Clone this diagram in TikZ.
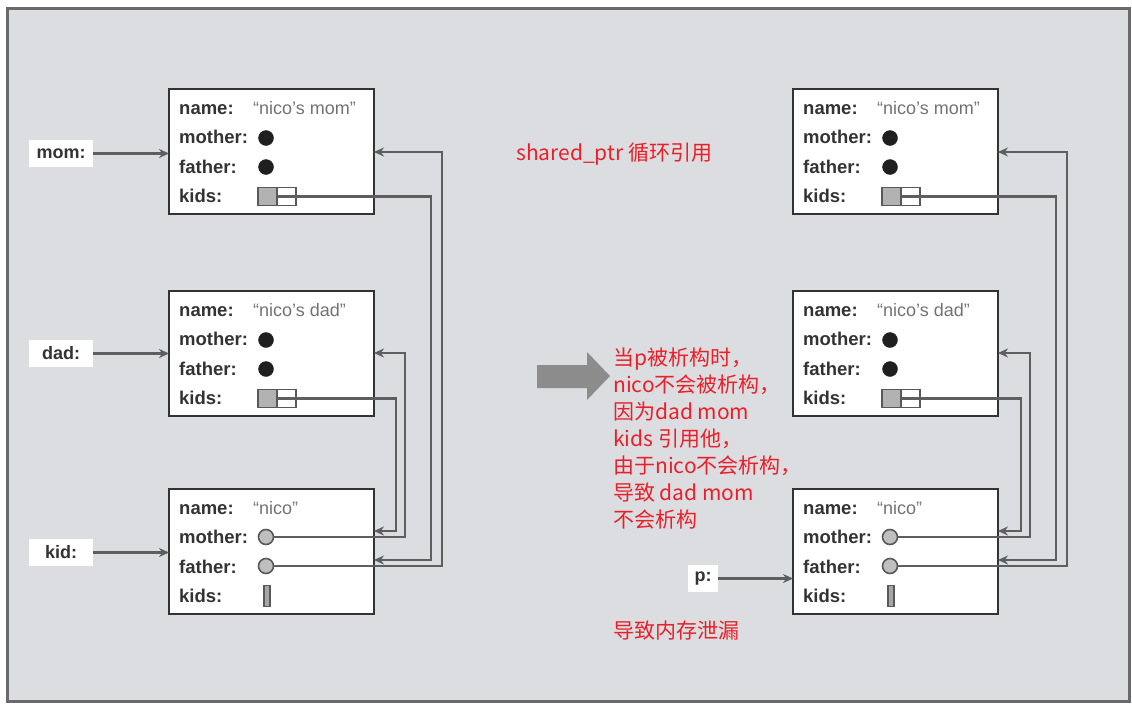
\documentclass[tikz,border=0pt]{standalone}
\usepackage{fontspec}
\setmainfont{Liberation Sans}
\newfontfamily\cjk{Noto Sans CJK SC}
\usetikzlibrary{arrows.meta}
\definecolor{bg}{HTML}{DCDDE0}
\definecolor{frame}{HTML}{6A6A6A}
\definecolor{ink}{HTML}{333333}
\definecolor{wirec}{HTML}{5E5E5E}
\definecolor{note}{HTML}{E8202A}
\tikzset{
  box/.style={draw=ink, line width=2.4pt, fill=white, rectangle, anchor=north west,
    minimum width=205, minimum height=125, inner sep=0, outer sep=0},
  fld/.style={anchor=base west, inner sep=0, text=ink, font=\fontsize{18.5}{20}\selectfont\bfseries},
  val/.style={anchor=base west, inner sep=0, text=black!55, font=\fontsize{18}{20}\selectfont},
  bdot/.style={circle, fill=black!88, draw=black!88, minimum size=15, inner sep=0},
  gdot/.style={circle, fill=black!25, draw=black!65, line width=1.6pt, minimum size=15, inner sep=0},
  arr/.style={rectangle, draw=black!65, line width=1.6pt, minimum width=38, minimum height=18, inner sep=0,
    path picture={\fill[black!30] (path picture bounding box.south west) rectangle (path picture bounding box.north);
      \draw[black!65, line width=1.6pt] (path picture bounding box.south) -- (path picture bounding box.north);}},
  one/.style={rectangle, draw=black!65, fill=black!35, line width=1.6pt, minimum width=6, minimum height=21, inner sep=0},
  ref/.style={rectangle, fill=white, inner sep=0, minimum height=27, text=ink, font=\fontsize{18}{20}\selectfont\bfseries},
  wire/.style={draw=wirec, line width=2.2pt},
  tip/.style={-{Stealth[length=10pt,width=9pt]}},
  red/.style={anchor=base west, inner sep=0, text=note, font=\cjk\fontsize{21}{27}\selectfont},
}
\newcommand\personbox[5]{%
\begin{scope}[shift={(#2,#3)}]
  \node[box] (#1) at (0,0) {};
  \node[fld] (#1-ln) at (10,25) {name:};
  \node[fld] (#1-lm) at (10,54) {mother:};
  \node[fld] (#1-lf) at (10,84) {father:};
  \node[fld] (#1-lk) at (10,113) {kids:};
  \node[val] (#1-v) at (84,25) {#4};
  \ifnum#5=0
    \node[bdot] (#1-m) at (97,49) {};
    \node[bdot] (#1-f) at (97,78) {};
    \node[arr] (#1-k) at (108,107.5) {};
  \else
    \node[gdot] (#1-m) at (97,48) {};
    \node[gdot] (#1-f) at (97,77) {};
    \node[one] (#1-k) at (98,107) {};
  \fi
\end{scope}}
\begin{document}
\begin{tikzpicture}[x=1pt,y=-1pt]
\useasboundingbox (0,0) rectangle (1132,707);
\fill[white] (0,0) rectangle (1132,707);
\draw[fill=bg, draw=frame, line width=3pt] (7,8) rectangle (1129,701);

% left side
\personbox{momL}{169}{89}{“nico’s mom”}{0}
\personbox{dadL}{169}{291}{“nico’s dad”}{0}
\personbox{nicoL}{169}{489}{“nico”}{1}
% right side
\personbox{momR}{793}{89}{“nico’s mom”}{0}
\personbox{dadR}{793}{291}{“nico’s dad”}{0}
\personbox{nicoR}{793}{489}{“nico”}{1}

% left wires
\coordinate (la1) at (431,560);
\coordinate (la2) at (396,531);
\coordinate (la3) at (405,353);
\coordinate (la4) at (442,152);
\draw[wire,tip] (momL-k.center) -| (la1) -- (la1 -| nicoL.east);
\draw[wire,tip] (dadL-k.center) -| (la2) -- (la2 -| nicoL.east);
\draw[wire,tip] (nicoL-m.east) -| (la3) -- (la3 -| dadL.east);
\draw[wire,tip] (nicoL-f.east) -| (la4) -- (la4 -| momL.east);
% right wires
\coordinate (ra1) at (1056,560);
\coordinate (ra2) at (1021,531);
\coordinate (ra3) at (1030,353);
\coordinate (ra4) at (1067,152);
\draw[wire,tip] (momR-k.center) -| (ra1) -- (ra1 -| nicoR.east);
\draw[wire,tip] (dadR-k.center) -| (ra2) -- (ra2 -| nicoR.east);
\draw[wire,tip] (nicoR-m.east) -| (ra3) -- (ra3 -| dadR.east);
\draw[wire,tip] (nicoR-f.east) -| (ra4) -- (ra4 -| momR.east);

% variable labels
\node[ref, minimum width=64] (vmom) at (61,153.5) {mom:};
\node[ref, minimum width=64] (vdad) at (61,353.5) {dad:};
\node[ref, minimum width=64] (vkid) at (61,552.5) {kid:};
\node[ref, minimum width=30] (vp) at (703,578.5) {p:};
\draw[wire,tip] (vmom.east) -- (vmom.east -| momL.west);
\draw[wire,tip] (vdad.east) -- (vdad.east -| dadL.west);
\draw[wire,tip] (vkid.east) -- (vkid.east -| nicoL.west);
\draw[wire,tip] (vp.east) -- (vp.east -| nicoR.west);

% big arrow
\fill[black!45] (537,365) -- (587,365) -- (587,352) -- (610,376) -- (587,400) -- (587,388) -- (537,388) -- cycle;

% red notes
\node[red] (title) at (516,160) {shared\_ptr 循环引用};
\node[red] (n1) at (613,365) {当p被析构时，};
\node[red] (n2) at (613,392) {nico不会被析构，};
\node[red] (n3) at (613,419) {因为dad mom};
\node[red] (n4) at (613,446) {kids 引用他，};
\node[red] (n5) at (613,473) {由于nico不会析构，};
\node[red] (n6) at (613,500) {导致 dad mom};
\node[red] (n7) at (613,527) {不会析构};
\node[red] (n8) at (613,638) {导致内存泄漏};
\end{tikzpicture}
\end{document}
